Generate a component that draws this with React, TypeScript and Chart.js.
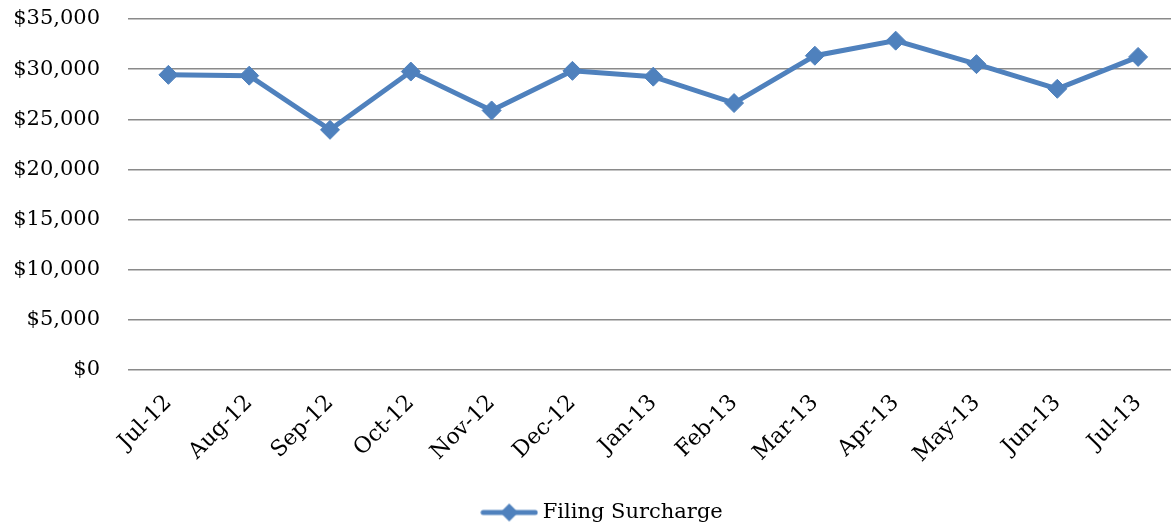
import React, { useEffect, useRef } from "react";
import { Chart, registerables } from "chart.js";

Chart.register(...registerables);

const categories = [
  "Jul-12", "Aug-12", "Sep-12", "Oct-12", "Nov-12", "Dec-12", "Jan-13",
  "Feb-13", "Mar-13", "Apr-13", "May-13", "Jun-13", "Jul-13",
];
const filingSurcharge = [
  29430, 29350, 23950, 29760, 25880, 29830, 29250, 26620, 31340, 32840, 30500, 28040, 31220,
];
const seriesName = "Filing Surcharge";
const yTicks = [0, 5000, 10000, 15000, 20000, 25000, 30000, 35000];

const BLUE = "#4F81BD";
const FONT = "'DejaVu Serif', serif";
const CLEAR = "rgba(0,0,0,0)";

function makeLegendIcon(): HTMLCanvasElement {
  const c = document.createElement("canvas");
  c.width = 58;
  c.height = 22;
  const ctx = c.getContext("2d")!;
  ctx.strokeStyle = BLUE;
  ctx.lineWidth = 5;
  ctx.lineCap = "round";
  ctx.beginPath();
  ctx.moveTo(3, 11);
  ctx.lineTo(55, 11);
  ctx.stroke();
  ctx.fillStyle = BLUE;
  ctx.beginPath();
  ctx.moveTo(29, 2);
  ctx.lineTo(38, 11);
  ctx.lineTo(29, 20);
  ctx.lineTo(20, 11);
  ctx.closePath();
  ctx.fill();
  return c;
}

const legendShift = {
  id: "legendShift",
  afterLayout(chart: any) {
    const lg = chart.legend;
    if (lg) {
      lg.left += 20;
      lg.top += 4;
      lg.bottom += 4;
    }
  },
};

export default function App() {
  const ref = useRef<HTMLCanvasElement | null>(null);

  useEffect(() => {
    document.documentElement.style.overflow = "hidden";
    document.body.style.overflow = "hidden";
    const canvas = ref.current!;
    const icon = makeLegendIcon();
    const chart = new Chart(canvas, {
      type: "line",
      data: {
        labels: categories,
        datasets: [
          {
            label: seriesName,
            data: filingSurcharge,
            borderColor: BLUE,
            backgroundColor: BLUE,
            borderWidth: 5,
            pointStyle: "rectRot",
            pointRadius: 9.5,
            pointBorderWidth: 1,
            pointBackgroundColor: BLUE,
            pointBorderColor: BLUE,
            tension: 0,
          },
        ],
      },
      options: {
        responsive: false,
        animation: false,
        layout: { padding: { top: 19, right: 0, bottom: 0, left: 0 } },
        plugins: {
          tooltip: { enabled: false },
          legend: {
            position: "bottom",
            labels: {
              usePointStyle: true,
              pointStyleWidth: 46,
              padding: 10,
              color: "#000",
              font: { family: FONT, size: 21 },
              generateLabels: (ch: any) => {
                const items = Chart.defaults.plugins.legend.labels.generateLabels(ch);
                items.forEach((it: any) => {
                  it.pointStyle = icon;
                });
                return items;
              },
            },
          },
        },
        scales: {
          x: {
            offset: true,
            grid: { display: true, color: CLEAR, tickColor: CLEAR, drawTicks: true, tickLength: 20 },
            border: { display: false },
            ticks: {
              color: "#000",
              font: { family: FONT, size: 22 },
              minRotation: 45,
              maxRotation: 45,
              padding: 0,
              autoSkip: false,
            },
            afterFit: (scale: any) => {
              scale.height = 118;
            },
          },
          y: {
            min: 0,
            max: 35000,
            grid: { color: "#8a8a8a", lineWidth: 1.5, drawTicks: true, tickLength: 28, tickColor: CLEAR },
            border: { display: false },
            afterBuildTicks: (scale: any) => {
              scale.ticks = yTicks.map((v) => ({ value: v }));
            },
            ticks: {
              color: "#000",
              font: { family: FONT, size: 21 },
              padding: 0,
              callback: (v: any) => "$" + Number(v).toLocaleString("en-US"),
            },
            afterFit: (scale: any) => {
              scale.width = 128;
            },
          },
        },
      },
      plugins: [legendShift],
    });
    return () => chart.destroy();
  }, []);

  return (
    <div style={{ position: "absolute", left: 0, top: 0, width: 1189, height: 529 }}>
      <canvas ref={ref} width={1189} height={529} />
    </div>
  );
}
